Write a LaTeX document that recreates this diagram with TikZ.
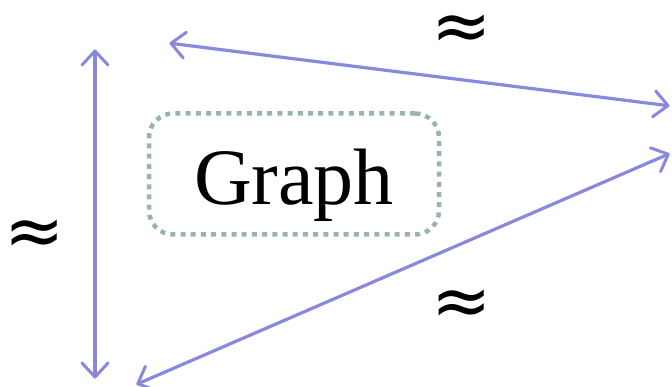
\documentclass[tikz,border=0pt]{standalone}
\usepackage{fontspec}
\setmainfont{Liberation Serif}
\newfontfamily\symfont{DejaVu Sans}
\usetikzlibrary{arrows.meta}
\definecolor{grlink}{HTML}{8888DD}
\definecolor{grbox}{HTML}{9BB2B2}
\begin{document}
\begin{tikzpicture}[x=1pt, y=-1pt,
    gbox/.style={draw=grbox, line width=4.5pt, dash pattern=on 5pt off 5.2pt,
                 rounded corners=24pt, minimum width=290pt, minimum height=121pt,
                 font=\fontsize{80}{90}\selectfont, inner sep=0pt, text height=79pt},
    apx/.style={font=\symfont\fontsize{72}{72}\selectfont, inner sep=0pt,
                text height=0.64em, text depth=0pt},
    link/.style={{Straight Barb[length=14pt, width=26pt, line width=3pt, round]}-{Straight Barb[length=14pt, width=26pt, line width=3pt, round]},
                 grlink, line width=3.2pt, line cap=round, shorten <=1.5pt, shorten >=1.5pt},
  ]
  \useasboundingbox (0,0) rectangle (672,387);

  \node[gbox] (graph) at (294,174) {Graph};

  % end points
  \coordinate (vtop) at (95,48);
  \coordinate (vbot) at (95,380);
  \coordinate (tleft) at (168,43);
  \coordinate (tright) at (671,106);
  \coordinate (bleft) at (135,385);
  \coordinate (bright) at (671,153);

  \draw[link] (vtop) -- (vbot);
  \draw[link] (tleft) -- (tright);
  \draw[link] (bleft) -- (bright);

  % similarity marks
  \node[apx] (aptop) at (462,47) {≈};
  \node[apx] (apleft) at (35,252) {≈};
  \node[apx] (apbot) at (462,322) {≈};
\end{tikzpicture}
\end{document}
